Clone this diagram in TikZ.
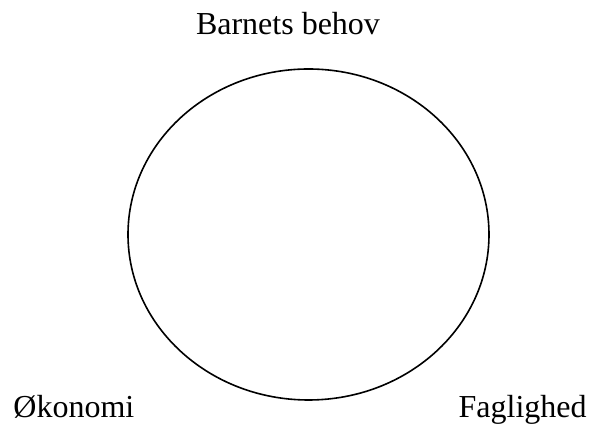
\documentclass[tikz,border=0pt]{standalone}
\usepackage{fontspec}
\setmainfont{Liberation Serif}
\usetikzlibrary{shapes,positioning}

\begin{document}
\begin{tikzpicture}[
        x=0.5pt, y=-0.5pt,
        label/.style={inner sep=0pt, font=\fontsize{16}{19}\selectfont},
        ring/.style ={draw, ellipse, line width=0.8pt, inner sep=0pt,
                      minimum width=180.5pt, minimum height=165.5pt},
    ]
        % frame of the picture
        \useasboundingbox (0,0) rectangle (591,427);

        % Centre: the circle
        \node[ring] (circ) at (308.5,234.5) {};

        % Corners: the three labels
        \node[label, anchor=base]      (behov) at (288,35)  {Barnets behov};
        \node[label, anchor=base west] (oko)   at (13,418)  {Økonomi};
        \node[label, anchor=base east] (fag)   at (587,418) {Faglighed};
    \end{tikzpicture}
\end{document}
